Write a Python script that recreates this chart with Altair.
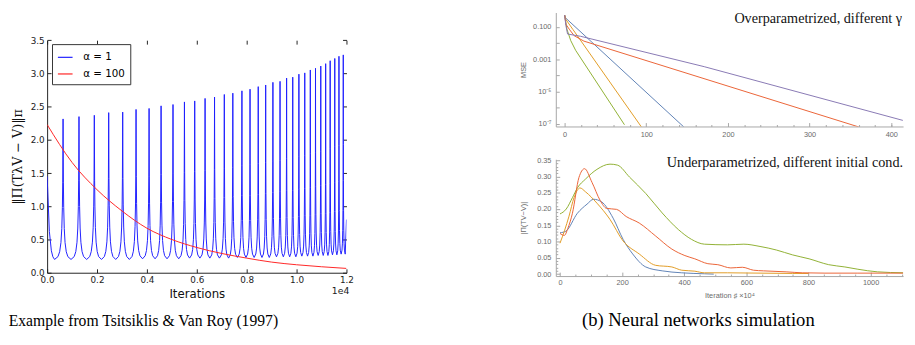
import altair as alt
import pandas as pd

# ---------------- Left panel: Tsitsiklis & Van Roy example ----------------
LEFT_SERIES = ["α = 1", "α = 100"]
LEFT_COLORS = ["#1f1fff", "#ff2424"]

# blue curve: spike tops (iteration, value) and the trough levels between spikes
peak_iter = [639, 1277, 1892, 2468, 3029, 3565, 4087, 4568, 5046, 5505, 5916, 6332,
             6711, 7103, 7444, 7809, 8134, 8463, 8761, 9051, 9337, 9600, 9846, 10093,
             10328, 10551, 10759, 10970, 11166, 11347, 11531, 11699, 11872]
peak_val = [2.315, 2.350, 2.370, 2.410, 2.418, 2.458, 2.473, 2.512, 2.532, 2.571, 2.586,
            2.624, 2.645, 2.683, 2.703, 2.738, 2.763, 2.801, 2.826, 2.866, 2.881, 2.930,
            2.944, 2.989, 3.008, 3.052, 3.077, 3.111, 3.147, 3.191, 3.225, 3.258, 3.279]
trough_iter = [298, 958, 1585, 2180, 2749, 3297, 3826, 4328, 4807, 5276, 5711, 6124,
               6522, 6907, 7274, 7627, 7972, 8299, 8612, 8906, 9194, 9469, 9723, 9970,
               10211, 10440, 10655, 10865, 11068, 11257, 11439, 11615, 11786, 11950]
trough_val = [0.20, 0.20, 0.20, 0.20, 0.20, 0.20, 0.21, 0.21, 0.21, 0.21, 0.22, 0.22,
              0.22, 0.22, 0.22, 0.23, 0.23, 0.23, 0.23, 0.23, 0.24, 0.24, 0.24, 0.24,
              0.25, 0.25, 0.25, 0.26, 0.26, 0.26, 0.27, 0.27, 0.28, 0.28]
lead_iter = [0, 90, 170, 230]
lead_val = [1.45, 0.62, 0.33, 0.24]
tail_iter = [12000]
tail_val = [0.80]
# shape of one half-cycle as read from the first spikes:
# fraction of the way trough -> spike, and fraction of the rise reached there
shape_frac = [0.0, 0.4, 0.6, 0.75, 0.85, 0.92, 0.96, 1.0]
shape_rise = [0.0, 0.02, 0.055, 0.12, 0.22, 0.37, 0.55, 1.0]

red_iter = [0, 1000, 2000, 3000, 4000, 5000, 6000, 7000, 8000, 9000, 10000, 11000, 12000]
red_val = [2.23, 1.66, 1.25, 0.93, 0.67, 0.50, 0.38, 0.29, 0.22, 0.16, 0.12, 0.09, 0.065]

x_left_ticks = [0, 2000, 4000, 6000, 8000, 10000, 12000]
y_left_ticks = [0.0, 0.5, 1.0, 1.5, 2.0, 2.5, 3.0, 3.5]

# ---------------- Right top: overparametrized (log MSE) ----------------
RUNS = ["run1", "run2", "run3", "run4", "run5"]
RUN_COLORS = ["#5E81B5", "#E19C24", "#8FB032", "#EB6235", "#8778B3"]

over_x = {
    "run1": [0, 0.8, 146],
    "run2": [0, 1.6, 10, 94.1],
    "run3": [0, 2.8, 7.5, 13.5, 73.3],
    "run4": [0, 1.6, 5.6, 11.6, 23.6, 360.4],
    "run5": [0, 1.5, 3.6, 19.5, 171, 414.2],
}
over_mse = {
    "run1": [0.537, 0.372, 6.46e-8],
    "run2": [0.537, 0.282, 0.0708, 6.46e-8],
    "run3": [0.537, 0.0724, 0.0141, 0.00355, 8.9e-8],
    "run4": [0.537, 0.145, 0.0724, 0.0288, 0.0132, 6.46e-8],
    "run5": [0.537, 0.126, 0.0363, 0.0263, 3.47e-4, 1.66e-7],
}
top_x_major = [0, 100, 200, 300, 400]
top_x_minor = [20, 40, 60, 80, 120, 140, 160, 180, 220, 240, 260, 280, 320, 340, 360, 380, 400]
top_y_labeled = [0.1, 0.001, 1e-5, 1e-7]
top_y_decades = [0.1, 0.01, 0.001, 1e-4, 1e-5, 1e-6, 1e-7]

# ---------------- Right bottom: underparametrized ----------------
under_x = {
    "run1": [0, 19, 56, 87, 108, 134, 171, 203, 234, 276, 329, 392, 465, 495],
    "run2": [0, 15, 29, 45, 56, 64, 82, 119, 161, 203, 255, 308, 360, 392, 434, 465,
             539, 749, 800],
    "run3": [0, 20, 40, 56, 82, 119, 161, 185, 224, 276, 329, 381, 423, 465, 539, 592,
             644, 697, 749, 802, 865, 917, 959, 1022, 1106],
    "run4": [0, 14, 25, 40, 61, 79, 103, 129, 150, 182, 213, 255, 308, 360, 402, 434,
             476, 508, 550, 587, 623, 655, 728, 780, 853, 959, 1106],
}
under_val = {
    "run1": [0.127, 0.132, 0.187, 0.215, 0.230, 0.222, 0.172, 0.107, 0.062, 0.022, 0.010,
             0.004, 0.001, 0.000],
    "run2": [0.095, 0.135, 0.178, 0.235, 0.258, 0.265, 0.253, 0.218, 0.168, 0.102, 0.062,
             0.027, 0.022, 0.012, 0.009, 0.004, 0.004, 0.002, 0.002],
    "run3": [0.185, 0.200, 0.235, 0.265, 0.292, 0.322, 0.338, 0.335, 0.298, 0.248, 0.188,
             0.137, 0.107, 0.092, 0.090, 0.092, 0.085, 0.074, 0.059, 0.047, 0.029, 0.022,
             0.015, 0.007, 0.004],
    "run4": [0.125, 0.119, 0.140, 0.187, 0.297, 0.324, 0.282, 0.227, 0.202, 0.199, 0.177,
             0.157, 0.117, 0.077, 0.057, 0.047, 0.032, 0.029, 0.019, 0.021, 0.012, 0.010,
             0.007, 0.004, 0.003, 0.003, 0.003],
}
bot_x_major = [0, 200, 400, 600, 800, 1000]
bot_x_minor = [50, 100, 150, 250, 300, 350, 450, 500, 550, 650, 700, 750, 850, 900, 950, 1050, 1100]
bot_y_major = [0.0, 0.05, 0.10, 0.15, 0.20, 0.25, 0.30, 0.35]
bot_y_minor = [0.01, 0.02, 0.03, 0.04, 0.06, 0.07, 0.08, 0.09, 0.11, 0.12, 0.13, 0.14,
               0.16, 0.17, 0.18, 0.19, 0.21, 0.22, 0.23, 0.24, 0.26, 0.27, 0.28, 0.29,
               0.31, 0.32, 0.33, 0.34]

TEXTS = {
    "left_caption": "Example from Tsitsiklis & Van Roy (1997)",
    "right_caption": "(b) Neural networks simulation",
    "top_title": "Overparametrized, different γ",
    "bot_title": "Underparametrized, different initial cond.",
    "offset": "1e4",
}

# ---------------- build tables ----------------
blue_pts = list(zip(lead_iter, lead_val))
blue_pts.append((trough_iter[0], trough_val[0]))
for i, (xp, yp) in enumerate(zip(peak_iter, peak_val)):
    xa, ya = trough_iter[i], trough_val[i]
    xb, yb = trough_iter[i + 1], trough_val[i + 1]
    for f, r in zip(shape_frac[1:], shape_rise[1:]):
        blue_pts.append((xa + f * (xp - xa), ya + r * (yp - ya)))
    for f, r in zip(reversed(shape_frac[:-1]), reversed(shape_rise[:-1])):
        blue_pts.append((xb - f * (xb - xp), yb + r * (yp - yb)))
blue_pts += list(zip(tail_iter, tail_val))
blue_df = pd.DataFrame(blue_pts, columns=["it", "val"])
blue_df["series"] = LEFT_SERIES[0]
red_df = pd.DataFrame({"it": red_iter, "val": red_val, "series": LEFT_SERIES[1]})

top_df = pd.concat([pd.DataFrame({"x": over_x[r], "mse": over_mse[r], "run": r}) for r in RUNS],
                   ignore_index=True)
bot_df = pd.concat([pd.DataFrame({"x": under_x[r], "v": under_val[r], "run": r}) for r in RUNS[:4]],
                   ignore_index=True)
one_row = pd.DataFrame({"k": [0]})

FONT_MPL = "DejaVu Sans"
FONT_MMA = "Liberation Sans"
FONT_SERIF = "Liberation Serif"
MMA_AXIS = "#a6a6a6"
MMA_LABEL = "#6b6b6b"

# ---------------- left chart ----------------
# the view starts level with the right-hand panels; the axes occupy its lower part
WL, HL, TOP_GAP = 306, 266, 28.3
xs_l = alt.Scale(domain=[0, 12000], nice=False, zero=False)
ys_l = alt.Scale(domain=[0, 3.5], nice=False, zero=False, range=[HL, TOP_GAP])
cs_l = alt.Scale(domain=LEFT_SERIES, range=LEFT_COLORS)
leg_l = alt.Legend(title=None, orient="none", legendX=5, legendY=TOP_GAP + 4, symbolType="stroke",
                   symbolSize=225, symbolStrokeWidth=1.2, labelFont=FONT_MPL, labelFontSize=10.5,
                   labelColor="#000", strokeColor="#333", fillColor="white", padding=5,
                   rowPadding=3, labelOffset=10, cornerRadius=0)

blue_layer = alt.Chart(blue_df).mark_line(strokeWidth=1, clip=True).encode(
    x=alt.X("it:Q", scale=xs_l, axis=alt.Axis(
        orient="bottom", values=x_left_ticks, labelExpr="format(datum.value / 10000, '.1f')",
        labelFlush=False, ticks=False, tickSize=0, grid=False, domainColor="#222",
        labelFont=FONT_MPL, labelFontSize=9, labelColor="#222", labelPadding=3, title="Iterations",
        titleFont=FONT_MPL, titleFontSize=12, titleFontWeight="normal", titleColor="#111",
        titlePadding=4)),
    y=alt.Y("val:Q", scale=ys_l, axis=alt.Axis(
        orient="left", values=y_left_ticks, format=".1f", labelFlush=False, ticks=False, tickSize=0,
        grid=False, domainColor="#222", labelFont=FONT_MPL, labelFontSize=9, labelColor="#222",
        labelPadding=3, title="‖Π(TλV − V)‖π", titleFont="DejaVu Serif", titleFontSize=13,
        titleFontWeight="normal", titleColor="#111", titlePadding=6)),
    color=alt.Color("series:N", scale=cs_l, legend=leg_l),
)
red_layer = alt.Chart(red_df).mark_line(strokeWidth=1, interpolate="monotone", clip=True).encode(
    x=alt.X("it:Q", scale=xs_l, axis=None),
    y=alt.Y("val:Q", scale=ys_l, axis=None),
    color=alt.Color("series:N", scale=cs_l, legend=leg_l),
)
ticks_bl = alt.Chart(red_df).mark_point(opacity=0).encode(
    x=alt.X("it:Q", scale=xs_l, axis=alt.Axis(orient="bottom", values=x_left_ticks, labels=False,
            domain=False, grid=False, tickSize=4, tickColor="#222", offset=-4, title=None)),
    y=alt.Y("val:Q", scale=ys_l, axis=alt.Axis(orient="left", values=y_left_ticks, labels=False,
            domain=False, grid=False, tickSize=4, tickColor="#222", offset=-4, title=None)),
)
ticks_tr = alt.Chart(red_df).mark_point(opacity=0).encode(
    x=alt.X("it:Q", scale=xs_l, axis=alt.Axis(orient="top", values=x_left_ticks, labels=False,
            domain=False, grid=False, tickSize=4, tickColor="#222", offset=-(TOP_GAP + 4),
            title=None)),
    y=alt.Y("val:Q", scale=ys_l, axis=alt.Axis(orient="right", values=y_left_ticks, labels=False,
            domain=False, grid=False, tickSize=4, tickColor="#222", offset=-4, title=None)),
)
offset_text = alt.Chart(one_row).mark_text(text=TEXTS["offset"], font=FONT_MPL, fontSize=9.5,
                                           color="#222", align="center", baseline="middle").encode(
    x=alt.value(300), y=alt.value(HL + 18.3))

left = alt.layer(ticks_bl, ticks_tr, blue_layer, red_layer, offset_text).resolve_axis(
    x="independent", y="independent").properties(
    width=WL, height=HL,
    title=alt.TitleParams(TEXTS["left_caption"], orient="bottom", anchor="start",
                          frame="bounds", font=FONT_SERIF, fontSize=16, fontWeight="normal",
                          color="#000", offset=14, dx=-3))

# ---------------- right top chart ----------------
WR = 355
HT = 116.5
xs_t = alt.Scale(domain=[-10.8, 414.5], nice=False, zero=False)
ys_t = alt.Scale(type="log", domain=[10 ** -7.158, 10 ** -0.111], nice=False)
cs_r = alt.Scale(domain=RUNS, range=RUN_COLORS)

top_lines = alt.Chart(top_df).mark_line(strokeWidth=1, clip=True).encode(
    x=alt.X("x:Q", scale=xs_t, axis=alt.Axis(
        orient="bottom", values=top_x_major, format="d", labelFlush=False, ticks=False, tickSize=0,
        grid=False, domainColor=MMA_AXIS, labelFont=FONT_MMA, labelFontSize=7.5,
        labelColor=MMA_LABEL, labelPadding=4, title=None)),
    y=alt.Y("mse:Q", scale=ys_t, axis=alt.Axis(
        orient="left", values=top_y_labeled, labelFlush=False, ticks=False, tickSize=0, grid=False,
        domainColor=MMA_AXIS,
        labelExpr="datum.value > 0.01 ? '0.100' : datum.value > 0.0001 ? '0.001' : datum.value > 0.000001 ? '10⁻⁵' : '10⁻⁷'",
        labelFont=FONT_MMA, labelFontSize=7.5, labelColor=MMA_LABEL, labelPadding=5,
        title="MSE", titleFont=FONT_MMA, titleFontSize=7.5, titleFontWeight="normal",
        titleColor=MMA_LABEL, titlePadding=5)),
    color=alt.Color("run:N", scale=cs_r, legend=None),
    detail="run:N",
)
top_ticks_a = alt.Chart(top_df).mark_point(opacity=0).encode(
    x=alt.X("x:Q", scale=xs_t, axis=alt.Axis(orient="bottom", values=top_x_major, labels=False,
            domain=False, grid=False, tickSize=4, tickColor=MMA_AXIS, offset=-4, title=None)),
    y=alt.Y("mse:Q", scale=ys_t, axis=alt.Axis(orient="left", values=top_y_decades, labels=False,
            domain=False, grid=False, tickSize=3.5, tickColor=MMA_AXIS, offset=-3.5, title=None)),
)
top_ticks_b = alt.Chart(top_df).mark_point(opacity=0).encode(
    x=alt.X("x:Q", scale=xs_t, axis=alt.Axis(orient="bottom", values=top_x_minor, labels=False,
            domain=False, grid=False, tickSize=2, tickColor=MMA_AXIS, offset=-2, title=None)),
    y=alt.Y("mse:Q", scale=ys_t, axis=None),
)
top_title = alt.Chart(one_row).mark_text(text=TEXTS["top_title"], font=FONT_SERIF,
                                         fontSize=14.5, color="#111", align="right",
                                         baseline="top").encode(x=alt.value(WR - 1), y=alt.value(0))
top = alt.layer(top_ticks_a, top_ticks_b, top_lines, top_title).resolve_axis(
    x="independent", y="independent").properties(width=WR, height=HT)

# ---------------- right bottom chart ----------------
HB = 119.4
xs_b = alt.Scale(domain=[-13.5, 1104.6], nice=False, zero=False)
ys_b = alt.Scale(domain=[-0.006, 0.353], nice=False, zero=False)

bot_lines = alt.Chart(bot_df).mark_line(strokeWidth=1, clip=True, interpolate="monotone").encode(
    x=alt.X("x:Q", scale=xs_b, axis=alt.Axis(
        orient="bottom", values=bot_x_major, format="d", labelFlush=False, ticks=False, tickSize=0,
        grid=False, domainColor=MMA_AXIS, labelFont=FONT_MMA, labelFontSize=7.5,
        labelColor=MMA_LABEL, labelPadding=3, title="Iteration ♯ ×10⁴", titleFont=FONT_MMA,
        titleFontSize=7.5, titleFontWeight="normal", titleColor=MMA_LABEL, titlePadding=5)),
    y=alt.Y("v:Q", scale=ys_b, axis=alt.Axis(
        orient="left", values=bot_y_major, format=".2f", labelFlush=False, ticks=False, tickSize=0,
        grid=False, domainColor=MMA_AXIS, labelFont=FONT_MMA, labelFontSize=7.5,
        labelColor=MMA_LABEL, labelPadding=5, title="|Π(TV−V)|", titleFont=FONT_MMA,
        titleFontSize=7.5, titleFontWeight="normal", titleColor=MMA_LABEL, titlePadding=9)),
    color=alt.Color("run:N", scale=cs_r, legend=None),
    detail="run:N",
)
bot_ticks_a = alt.Chart(bot_df).mark_point(opacity=0).encode(
    x=alt.X("x:Q", scale=xs_b, axis=alt.Axis(orient="bottom", values=bot_x_major, labels=False,
            domain=False, grid=False, tickSize=4, tickColor=MMA_AXIS, offset=-4, title=None)),
    y=alt.Y("v:Q", scale=ys_b, axis=alt.Axis(orient="left", values=bot_y_major, labels=False,
            domain=False, grid=False, tickSize=4, tickColor=MMA_AXIS, offset=-4, title=None)),
)
bot_ticks_b = alt.Chart(bot_df).mark_point(opacity=0).encode(
    x=alt.X("x:Q", scale=xs_b, axis=alt.Axis(orient="bottom", values=bot_x_minor, labels=False,
            domain=False, grid=False, tickSize=2, tickColor=MMA_AXIS, offset=-2, title=None)),
    y=alt.Y("v:Q", scale=ys_b, axis=alt.Axis(orient="left", values=bot_y_minor, labels=False,
            domain=False, grid=False, tickSize=2, tickColor=MMA_AXIS, offset=-2, title=None)),
)
bot_title = alt.Chart(one_row).mark_text(text=TEXTS["bot_title"], font=FONT_SERIF, fontSize=14.5,
                                         color="#111", align="right", baseline="middle").encode(
    x=alt.value(WR), y=alt.value(3.4))
bottom = alt.layer(bot_ticks_a, bot_ticks_b, bot_lines, bot_title).resolve_axis(
    x="independent", y="independent").properties(width=WR, height=HB)

right = alt.vconcat(top, bottom, spacing=17).properties(
    title=alt.TitleParams(TEXTS["right_caption"], orient="bottom", anchor="middle",
                          frame="bounds", font=FONT_SERIF, fontSize=19, fontWeight="normal",
                          color="#000", offset=13, dx=-15))

chart = alt.hconcat(left, right, spacing=169).resolve_scale(color="independent").properties(
    padding={"left": 0, "top": 0, "right": 0, "bottom": 0},
    background="white",
).configure_view(stroke=None)

chart.save("out.html", embed_options={"renderer": "svg", "actions": False})
